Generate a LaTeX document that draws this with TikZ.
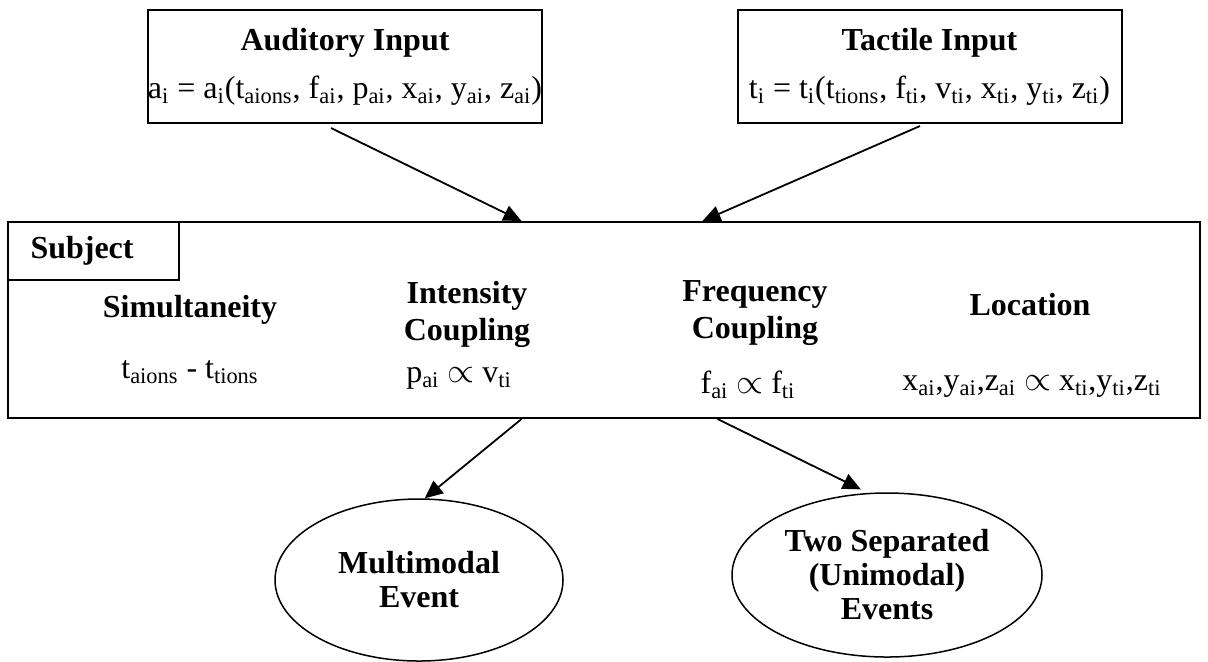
\documentclass[tikz,border=0pt]{standalone}
\usepackage{fontspec}
\setmainfont{Liberation Serif}
\usetikzlibrary{shapes.geometric,arrows.meta}
\newcommand{\sbs}[1]{\textsubscript{#1}}
\begin{document}
\begin{tikzpicture}[x=0.5pt,y=-0.5pt,
  inputbox/.style={draw,line width=1pt,minimum width=192pt,minimum height=56.5pt,
    align=center,inner sep=0pt,font=\fontsize{16}{24}\selectfont},
  heading/.style={align=center,inner sep=0pt,font=\bfseries\fontsize{16}{18.5}\selectfont},
  formula/.style={anchor=base,inner sep=0pt,font=\fontsize{16}{19}\selectfont},
  eventnode/.style={ellipse,draw,line width=0.75pt,align=center,inner sep=0pt,
    font=\bfseries\fontsize{16}{17}\selectfont},
  flow/.style={-{Triangle[length=9pt,width=8pt]},line width=0.9pt}]
  \fill[white] (0,0) rectangle (1208,661);
  \useasboundingbox (0,0) rectangle (1208,661);

  % the two sensory inputs
  \node[inputbox] (aud) at (345,66.5)
    {\textbf{Auditory Input}\\
     a\sbs{i} = a\sbs{i}(t\sbs{aions}, f\sbs{ai}, p\sbs{ai}, x\sbs{ai}, y\sbs{ai}, z\sbs{ai})};
  \node[inputbox] (tact) at (929.5,66.5)
    {\textbf{Tactile Input}\\
     t\sbs{i} = t\sbs{i}(t\sbs{tions}, f\sbs{ti}, v\sbs{ti}, x\sbs{ti}, y\sbs{ti}, z\sbs{ti})};

  % the subject with its four binding cues
  \node[draw,line width=1pt,minimum width=596pt,minimum height=98pt,inner sep=0pt] (subj) at (603.5,320) {};
  \node[draw,line width=1pt,anchor=north west,minimum height=29pt,text width=62.5pt,
        inner xsep=11.5pt,inner ysep=0pt,align=left,font=\bfseries\fontsize{16}{19}\selectfont]
        (subjlbl) at (subj.north west) {Subject};

  \node[heading,anchor=base] (simul) at (190,317) {Simultaneity};
  \node[formula] (simeq) at (190,378) {t\sbs{aions} - t\sbs{tions}};

  \node[heading] (inten) at (467,314) {Intensity\\Coupling};
  \node[formula] (inteq) at (459,382) {p\sbs{ai} $\propto$ v\sbs{ti}};

  \node[heading] (freq) at (755,313) {Frequency\\Coupling};
  \node[formula] (freqeq) at (748,393) {f\sbs{ai} $\propto$ f\sbs{ti}};

  \node[heading,anchor=base] (loc) at (1030,315) {Location};
  \node[formula] (loceq) at (1032,390)
    {x\sbs{ai},y\sbs{ai},z\sbs{ai} $\propto$ x\sbs{ti},y\sbs{ti},z\sbs{ti}};

  % the two possible percepts
  \node[eventnode,minimum width=144pt,minimum height=81pt] (multi) at (419,580) {Multimodal\\Event};
  \node[eventnode,minimum width=155pt,minimum height=82pt] (sep) at (887,575)
    {Two Separated\\(Unimodal)\\Events};

  % connectors
  \draw[flow] ([xshift=-7pt,yshift=-2pt]aud.south) -- ([xshift=-41pt]subj.north);
  \draw[flow] ([xshift=-4.75pt,yshift=-1pt]tact.south) -- ([xshift=49.5pt]subj.north);
  \draw[flow] ([xshift=-41pt]subj.south) -- (multi.86);
  \draw[flow,shorten >=4pt] ([xshift=57pt]subj.south) -- (sep.103);
\end{tikzpicture}
\end{document}
